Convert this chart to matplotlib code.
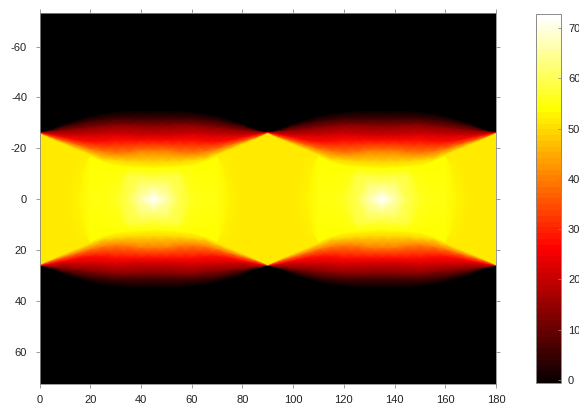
"""
plot.py
Mapa de calor por latitud, eje y invertido, colormap hot con barra de color.
"""

import numpy as np
import matplotlib
matplotlib.use('Agg')
import matplotlib.pyplot as plt
from matplotlib.colors import Normalize
from matplotlib.cm import ScalarMappable

# columnas, de 0 a 45 grados (luego se repite el patron)
x_half = [0, 5, 10, 15, 20, 25, 30, 35, 40, 45]

# valor sobre la linea y=0 en cada columna
center_values = [52, 52, 52, 53, 54.5, 55, 56, 60, 66, 72]

# niveles de valor y latitud a la que aparece cada nivel en cada columna
levels = [0, 6, 14, 22, 28, 40, 50, 52, 54, 58, 62, 66, 70, 72]
lat_0 = [26.0, 27.5, 29.5, 31.0, 32.5, 33.5, 34.0, 34.5, 34.5, 34.5]
lat_6 = [26.0, 27.0, 28.5, 29.5, 30.5, 31.0, 31.5, 31.5, 31.5, 31.5]
lat_14 = [26.0, 26.5, 27.0, 27.5, 28.0, 28.5, 29.0, 29.0, 28.8, 28.7]
lat_22 = [26.0, 25.5, 25.0, 25.0, 25.0, 25.2, 25.5, 25.2, 25.0, 25.0]
lat_28 = [26.0, 25.0, 24.0, 23.0, 22.5, 22.5, 23.0, 23.0, 23.0, 23.0]
lat_40 = [25.8, 24.0, 22.5, 21.0, 19.5, 18.5, 18.0, 18.2, 18.9, 18.9]
lat_50 = [25.6, 23.5, 21.5, 19.5, 17.5, 15.5, 15.0, 14.5, 14.3, 14.2]
lat_52 = [25.5, 23.2, 21.0, 19.0, 17.0, 15.0, 14.0, 13.5, 13.2, 13.0]
lat_54 = [0, 0, 0, 0, 16.5, 14.5, 13.0, 12.5, 12.2, 12.0]
lat_58 = [0, 0, 0, 0, 0, 0, 0, 9.0, 9.0, 8.5]
lat_62 = [0, 0, 0, 0, 0, 0, 0, 0, 6.0, 6.0]
lat_66 = [0, 0, 0, 0, 0, 0, 0, 0, 0, 3.5]
lat_70 = [0, 0, 0, 0, 0, 0, 0, 0, 0, 1.5]
lat_72 = [0, 0, 0, 0, 0, 0, 0, 0, 0, 0]

x_ticks = [0, 20, 40, 60, 80, 100, 120, 140, 160, 180]
y_ticks = [-60, -40, -20, 0, 20, 40, 60]
cbar_ticks = [0, 10, 20, 30, 40, 50, 60, 70]

W, H = 579, 419
GRAY = '#8a8a8a'
TXT = '#222222'


def px_axes(fig, left, top, right, bottom):
    return fig.add_axes([left / W, 1 - bottom / H, (right - left) / W, (bottom - top) / H])


def main():
    plt.rcParams['font.family'] = ['Liberation Sans', 'DejaVu Sans']
    plt.rcParams['axes.unicode_minus'] = False

    fig = plt.figure(figsize=(W / 100, H / 100), dpi=100)
    ax = px_axes(fig, 39.5, 13.5, 496, 383.5)
    ax.set_facecolor('black')

    x_half_arr = np.array(x_half, dtype=float)
    lat_half = np.array([lat_0, lat_6, lat_14, lat_22, lat_28, lat_40, lat_50,
                         lat_52, lat_54, lat_58, lat_62, lat_66, lat_70, lat_72], dtype=float)
    val_half = np.minimum(np.array(levels, dtype=float)[:, None], np.array(center_values, dtype=float))

    # el patron se repite en espejo cada 45 grados
    xs = np.concatenate([x_half_arr, 90 - x_half_arr[::-1][1:], 90 + x_half_arr[1:], 180 - x_half_arr[::-1][1:]])
    lats = np.hstack([lat_half, lat_half[:, ::-1][:, 1:], lat_half[:, 1:], lat_half[:, ::-1][:, 1:]])
    vals = np.hstack([val_half, val_half[:, ::-1][:, 1:], val_half[:, 1:], val_half[:, ::-1][:, 1:]])

    X = np.tile(xs, (len(levels), 1))
    norm = Normalize(vmin=-0.6, vmax=72.8)
    cmap = plt.get_cmap('hot', 64)
    for sign in (-1, 1):
        ax.pcolormesh(X, sign * lats, vals, shading='gouraud', cmap=cmap, norm=norm)

    ax.set_xlim(0, 180)
    ax.set_ylim(72.5, -73)
    ax.set_xticks(x_ticks)
    ax.set_yticks(y_ticks)
    ax.tick_params(axis='both', direction='out', length=3, width=0.6, color=GRAY,
                   labelsize=8, labelcolor=TXT, pad=5, top=True, right=True)
    ax.tick_params(axis='y', pad=6)
    for s in ax.spines.values():
        s.set_linewidth(0.6)
        s.set_color(GRAY)

    cax = px_axes(fig, 536, 14, 561, 383)
    cbar = fig.colorbar(ScalarMappable(norm=norm, cmap=cmap), cax=cax)
    cbar.set_ticks(cbar_ticks)
    cax.tick_params(axis='y', direction='in', length=2, width=0.6, color=GRAY,
                    labelsize=8, labelcolor=TXT, pad=5)
    cbar.outline.set_linewidth(0.7)
    cbar.outline.set_edgecolor(GRAY)

    fig.savefig('out.png', dpi=100)


if __name__ == '__main__':
    main()
